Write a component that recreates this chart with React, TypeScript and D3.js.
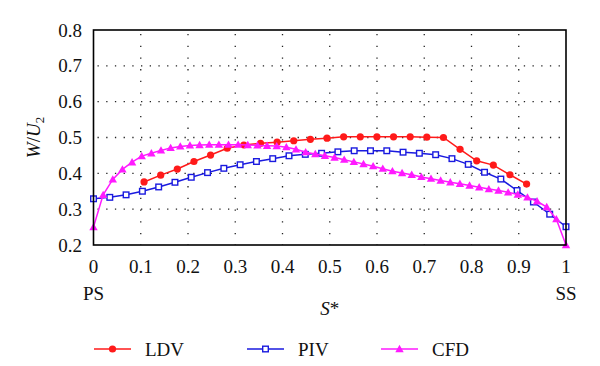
import React from "react";
import * as d3 from "d3";

const ldvS0 = 0.107;
const ldvStep = 0.0352;
const ldvValues = [0.376, 0.395, 0.412, 0.433, 0.451, 0.47, 0.479, 0.484, 0.487, 0.491, 0.495, 0.498, 0.502, 0.502, 0.502, 0.502, 0.502, 0.501, 0.5, 0.467, 0.435, 0.423, 0.396, 0.37];
const pivValues = [0.329, 0.333, 0.34, 0.35, 0.362, 0.375, 0.389, 0.402, 0.414, 0.424, 0.433, 0.441, 0.449, 0.453, 0.456, 0.46, 0.463, 0.463, 0.463, 0.459, 0.456, 0.452, 0.441, 0.425, 0.403, 0.384, 0.352, 0.32, 0.286, 0.251];
const cfdValues = [0.25, 0.34, 0.383, 0.411, 0.431, 0.448, 0.456, 0.464, 0.471, 0.475, 0.478, 0.479, 0.48, 0.48, 0.48, 0.48, 0.479, 0.478, 0.477, 0.476, 0.473, 0.467, 0.459, 0.454, 0.449, 0.444, 0.438, 0.432, 0.426, 0.42, 0.413, 0.406, 0.401, 0.396, 0.39, 0.385, 0.38, 0.375, 0.371, 0.366, 0.361, 0.356, 0.352, 0.347, 0.341, 0.333, 0.322, 0.306, 0.272, 0.2];
const xTicks = [0, 0.1, 0.2, 0.3, 0.4, 0.5, 0.6, 0.7, 0.8, 0.9, 1];
const xTickLabels = ["0", "0.1", "0.2", "0.3", "0.4", "0.5", "0.6", "0.7", "0.8", "0.9", "1"];
const yTicks = [0.2, 0.3, 0.4, 0.5, 0.6, 0.7, 0.8];
const seriesNames = ["LDV", "PIV", "CFD"];
const seriesColors = ["#ff1a1a", "#1a1adf", "#ff1aff"];

type Pt = [number, number];
const ldv: Pt[] = ldvValues.map((v, i) => [ldvS0 + ldvStep * i, v]);
const piv: Pt[] = pivValues.map((v, i) => [i / (pivValues.length - 1), v]);
const cfd: Pt[] = cfdValues.map((v, i) => [i / (cfdValues.length - 1), v]);

const W = 600, H = 366;
const L = 93.5, R = 566, T = 30, B = 245;
const FONT = "Liberation Serif, Times New Roman, serif";
const ts: React.CSSProperties = { fontFamily: FONT };

const x = d3.scaleLinear().domain([0, 1]).range([L, R]);
const y = d3.scaleLinear().domain([0.2, 0.8]).range([B, T]);
const line = d3.line<Pt>().x(d => x(d[0])).y(d => y(d[1]));

function Marker({ kind, cx, cy, color }: { kind: number; cx: number; cy: number; color: string }) {
  if (kind === 0) return <circle cx={cx} cy={cy} r={3.6} fill={color} />;
  if (kind === 1) return <rect x={cx - 2.8} y={cy - 2.8} width={5.6} height={5.6} fill="#fff" stroke={color} strokeWidth={1.4} />;
  const s = 4.2;
  return <path d={`M${cx},${cy - s} L${cx + s},${cy + s * 0.75} L${cx - s},${cy + s * 0.75}Z`} fill={color} />;
}

export default function App() {
  const series = [ldv, piv, cfd];
  const legendX = [94, 247, 381];
  return (
    <svg width={W} height={H} style={{ position: "absolute", left: 0, top: 0, background: "#fff" }}>
      <rect width={W} height={H} fill="#fff" />
      {/* grid */}
      {xTicks.slice(1, -1).map(t => (
        <line key={"gx" + t} x1={x(t)} x2={x(t)} y1={T + 4} y2={B} stroke="#222" strokeWidth={1.3} strokeDasharray="1.3 10.4" />
      ))}
      {yTicks.slice(1, -1).map(t => (
        <line key={"gy" + t} x1={L + 4} x2={R} y1={y(t)} y2={y(t)} stroke="#222" strokeWidth={1.3} strokeDasharray="1.3 7.4" />
      ))}
      {/* series */}
      {series.map((d, si) => (
        <g key={si}>
          <path d={line(d) || ""} fill="none" stroke={seriesColors[si]} strokeWidth={1.5} />
          {d.map((p, i) => (
            <Marker key={i} kind={si} cx={x(p[0])} cy={y(p[1])} color={seriesColors[si]} />
          ))}
        </g>
      ))}
      {/* frame */}
      <rect x={L} y={T} width={R - L} height={B - T} fill="none" stroke="#000" strokeWidth={1.6} />
      {/* y ticks */}
      {yTicks.map(t => (
        <text key={"yt" + t} style={ts} x={82} y={y(t)} dy="0.35em" textAnchor="end" fontSize={19} fill="#111">{t.toFixed(1)}</text>
      ))}
      {/* x ticks */}
      {xTicks.map((t, i) => (
        <text key={"xt" + t} style={ts} x={x(t)} y={272.5} textAnchor="middle" fontSize={19} fill="#111">{xTickLabels[i]}</text>
      ))}
      <text style={ts} x={x(0)} y={300} textAnchor="middle" fontSize={19} fill="#111">PS</text>
      <text style={ts} x={x(1)} y={300} textAnchor="middle" fontSize={19} fill="#111">SS</text>
      <text style={ts} x={x(0.5)} y={315} textAnchor="middle" fontSize={19} fill="#111">
        <tspan fontStyle="italic">S</tspan>*
      </text>
      <text style={ts} transform={`translate(40,${(T + B) / 2}) rotate(-90)`} textAnchor="middle" fontSize={19} fill="#111">
        <tspan fontStyle="italic">W</tspan>/<tspan fontStyle="italic">U</tspan>
        <tspan fontSize={13} dy="4">2</tspan>
      </text>
      {/* legend */}
      {seriesNames.map((n, si) => (
        <g key={n}>
          <line x1={legendX[si]} x2={legendX[si] + 37} y1={349} y2={349} stroke={seriesColors[si]} strokeWidth={1.5} />
          <Marker kind={si} cx={legendX[si] + 18.5} cy={349} color={seriesColors[si]} />
          <text style={ts} x={legendX[si] + 51} y={356} fontSize={19} fill="#111">{n}</text>
        </g>
      ))}
    </svg>
  );
}
